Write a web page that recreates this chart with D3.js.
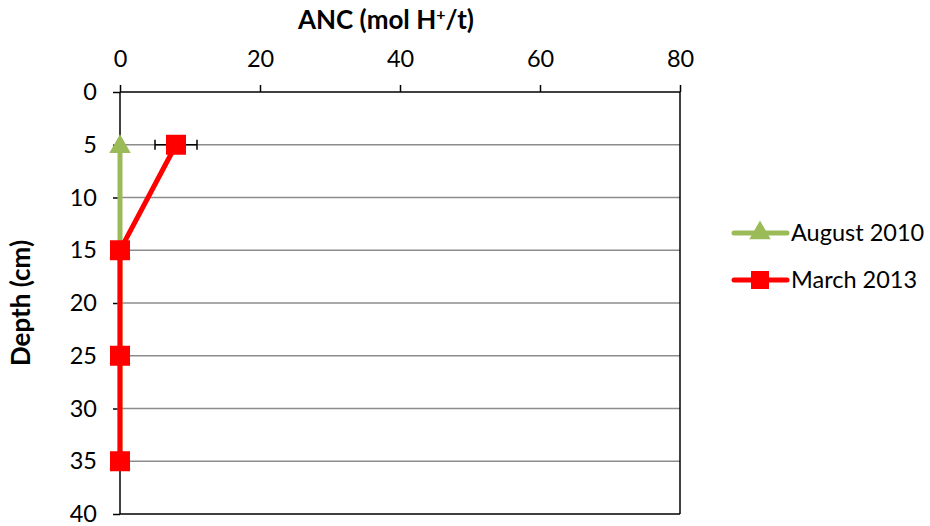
<!DOCTYPE html>
<html><head><meta charset="utf-8">
<script src="https://cdn.jsdelivr.net/npm/d3@7"></script>
<style>body{margin:0;background:#fff;} svg{display:block;font-family:Lato,"Open Sans",sans-serif;}</style>
</head><body>
<svg id="c" width="930" height="526"></svg>
<script>
const depths = [5, 15, 25, 35];
const aug2010 = [0, 0, 0, 0];
const mar2013 = [8, 0, 0, 0];
const mar2013Err = [3, 0, 0, 0];
const xTicks = [0, 20, 40, 60, 80];
const yTicks = [0, 5, 10, 15, 20, 25, 30, 35, 40];
const seriesNames = ["August 2010", "March 2013"];

const svg = d3.select("#c");
const x = d3.scaleLinear().domain([0, 80]).range([120, 680]);
const y = d3.scaleLinear().domain([0, 40]).range([92, 514]);
const FS = 23.5;

// gridlines
svg.append("g").selectAll("line").data(yTicks.filter(d => d > 0 && d < 40)).join("line")
  .attr("x1", x(0)).attr("x2", x(80)).attr("y1", d => y(d)).attr("y2", d => y(d))
  .attr("stroke", "#8c8c8c").attr("stroke-width", 1.5);

// border right & bottom
svg.append("line").attr("x1", x(80)).attr("x2", x(80)).attr("y1", y(0)).attr("y2", y(40)).attr("stroke", "#000").attr("stroke-width", 1.5);
svg.append("line").attr("x1", x(0)).attr("x2", x(80)).attr("y1", y(40)).attr("y2", y(40)).attr("stroke", "#000").attr("stroke-width", 1.5);

// top axis
const xa = svg.append("g").attr("transform", `translate(0,${y(0)})`)
  .call(d3.axisTop(x).tickValues(xTicks).tickSize(7).tickPadding(18).tickFormat(d3.format("d")));
xa.select(".domain").attr("stroke-width", 1.5).attr("d", `M${x(0)},0H${x(80)}`);
xa.selectAll(".tick line").attr("stroke-width", 1.5);
xa.selectAll("text").attr("font-size", FS).attr("fill", "#000").attr("font-family", "Lato");

// left axis
const ya = svg.append("g").attr("transform", `translate(${x(0)},0)`)
  .call(d3.axisLeft(y).tickValues(yTicks).tickSize(7).tickPadding(16).tickFormat(d3.format("d")));
ya.select(".domain").attr("stroke-width", 1.5).attr("d", `M0,${y(0)}V${y(40)}`);
ya.selectAll(".tick line").attr("stroke-width", 1.5);
ya.selectAll("text").attr("font-size", FS).attr("fill", "#000").attr("font-family", "Lato");

// titles
const t = svg.append("text").attr("x", 386).attr("y", 29).attr("text-anchor", "middle")
  .attr("font-size", 26).attr("font-weight", "bold");
t.append("tspan").text("ANC (mol H");
t.append("tspan").text("+").attr("font-size", 16).attr("dy", -9);
t.append("tspan").text("/t)").attr("dy", 9);

svg.append("text").attr("transform", `translate(30,303) rotate(-90)`).attr("text-anchor", "middle")
  .attr("font-size", 26).attr("font-weight", "bold").text("Depth (cm)");

const green = "#9BBB59", red = "#FF0000";
const line = d3.line().x(d => x(d[0])).y(d => y(d[1]));
const tri = d3.symbol().type(d3.symbolTriangle).size(200);

// August 2010
const augPts = aug2010.map((v, i) => [v, depths[i]]);
svg.append("path").attr("d", line(augPts)).attr("fill", "none").attr("stroke", green).attr("stroke-width", 5);
svg.append("g").selectAll("path").data(augPts).join("path")
  .attr("d", tri).attr("transform", d => `translate(${x(d[0])},${y(d[1]) + 2})`).attr("fill", green);

// error bars
const errG = svg.append("g");
mar2013.forEach((v, i) => {
  const e = mar2013Err[i];
  if (!e) return;
  const yy = y(depths[i]);
  errG.append("line").attr("x1", x(v - e)).attr("x2", x(v + e)).attr("y1", yy).attr("y2", yy).attr("stroke", "#000").attr("stroke-width", 1.5);
  [v - e, v + e].forEach(xx => errG.append("line").attr("x1", x(xx)).attr("x2", x(xx)).attr("y1", yy - 5).attr("y2", yy + 5).attr("stroke", "#000").attr("stroke-width", 1.5));
});

// March 2013
const marPts = mar2013.map((v, i) => [v, depths[i]]);
svg.append("path").attr("d", line(marPts)).attr("fill", "none").attr("stroke", red).attr("stroke-width", 5);
svg.append("g").selectAll("rect").data(marPts).join("rect")
  .attr("x", d => x(d[0]) - 10).attr("y", d => y(d[1]) - 10).attr("width", 20).attr("height", 20).attr("fill", red);

// legend
const lg = svg.append("g");
const legY = [233, 280];
lg.append("line").attr("x1", 734).attr("x2", 787).attr("y1", legY[0]).attr("y2", legY[0]).attr("stroke", green).attr("stroke-width", 5).attr("stroke-linecap", "round");
lg.append("path").attr("d", tri).attr("transform", `translate(760,${legY[0]})`).attr("fill", green);
lg.append("line").attr("x1", 734).attr("x2", 787).attr("y1", legY[1]).attr("y2", legY[1]).attr("stroke", red).attr("stroke-width", 5).attr("stroke-linecap", "round");
lg.append("rect").attr("x", 751).attr("y", legY[1] - 9).attr("width", 18).attr("height", 18).attr("fill", red);
lg.selectAll("text").data(seriesNames).join("text")
  .attr("x", 791).attr("y", (d, i) => legY[i]).attr("dy", "0.35em").attr("font-size", FS).text(d => d);
</script>
</body></html>
